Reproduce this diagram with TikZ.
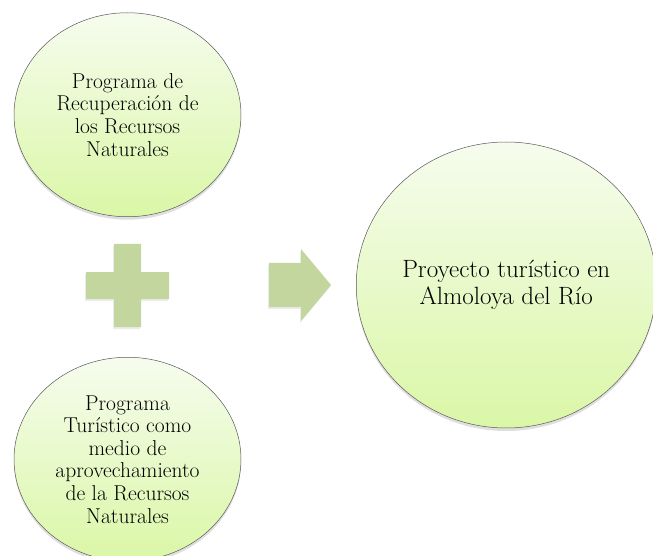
\documentclass[tikz,border=0pt]{standalone}
\usepackage{tikz}
\usetikzlibrary{positioning,shapes.geometric,shadows}

\definecolor{topgreen}{RGB}{246,252,238}
\definecolor{botgreen}{RGB}{218,247,166}
\definecolor{signgreen}{RGB}{195,214,158}

\begin{document}
\begin{tikzpicture}[x=1pt,y=1pt,
    circ node/.style={ellipse,draw=black!65,line width=0.5pt,top color=topgreen,bottom color=botgreen,
                      align=center,inner sep=0pt,
                      drop shadow={shadow xshift=0pt,shadow yshift=-3pt,opacity=0.25}},
    small node/.style={circ node,minimum width=227pt,minimum height=204pt,font=\fontsize{21.5}{22.6}\selectfont},
    big node/.style={circ node,minimum width=300pt,minimum height=286pt,font=\fontsize{25}{27}\selectfont},
    sign/.style={fill=signgreen},
    sign shadow/.style={fill=black,opacity=0.08}]
  \useasboundingbox (0,0) rectangle (653,555);

  \coordinate (plus) at (127.5,269.5);
  \coordinate (arrow) at (269,270);

  \node[small node] (recup) [above=68.5pt of plus] {Programa de\\Recuperación de\\los Recursos\\Naturales};
  \node[small node] (turis) [below=71.5pt of plus] {Programa\\Turístico como\\medio de\\aprovechamiento\\de la Recursos\\Naturales};
  \node[big node] (proy) [right=87pt of arrow] {Proyecto turístico en\\Almoloya del Río};

  % plus sign
  \fill[sign shadow] ([shift={(-1,-2)}]plus) +(-41.5,-13.5) rectangle +(41.5,13.5) +(-13.5,-41.5) rectangle +(13.5,41.5);
  \fill[sign] (plus) +(-41.5,-13.5) rectangle +(41.5,13.5) +(-13.5,-41.5) rectangle +(13.5,41.5);

  % arrow sign
  \fill[sign shadow] ([shift={(-1,-2)}]arrow) ++(0,-22) -- ++(32,0) -- ++(0,-14) -- ++(30,36) -- ++(-30,36) -- ++(0,-14) -- ++(-32,0) -- cycle;
  \fill[sign] (arrow) ++(0,-22) -- ++(32,0) -- ++(0,-14) -- ++(30,36) -- ++(-30,36) -- ++(0,-14) -- ++(-32,0) -- cycle;
\end{tikzpicture}
\end{document}
